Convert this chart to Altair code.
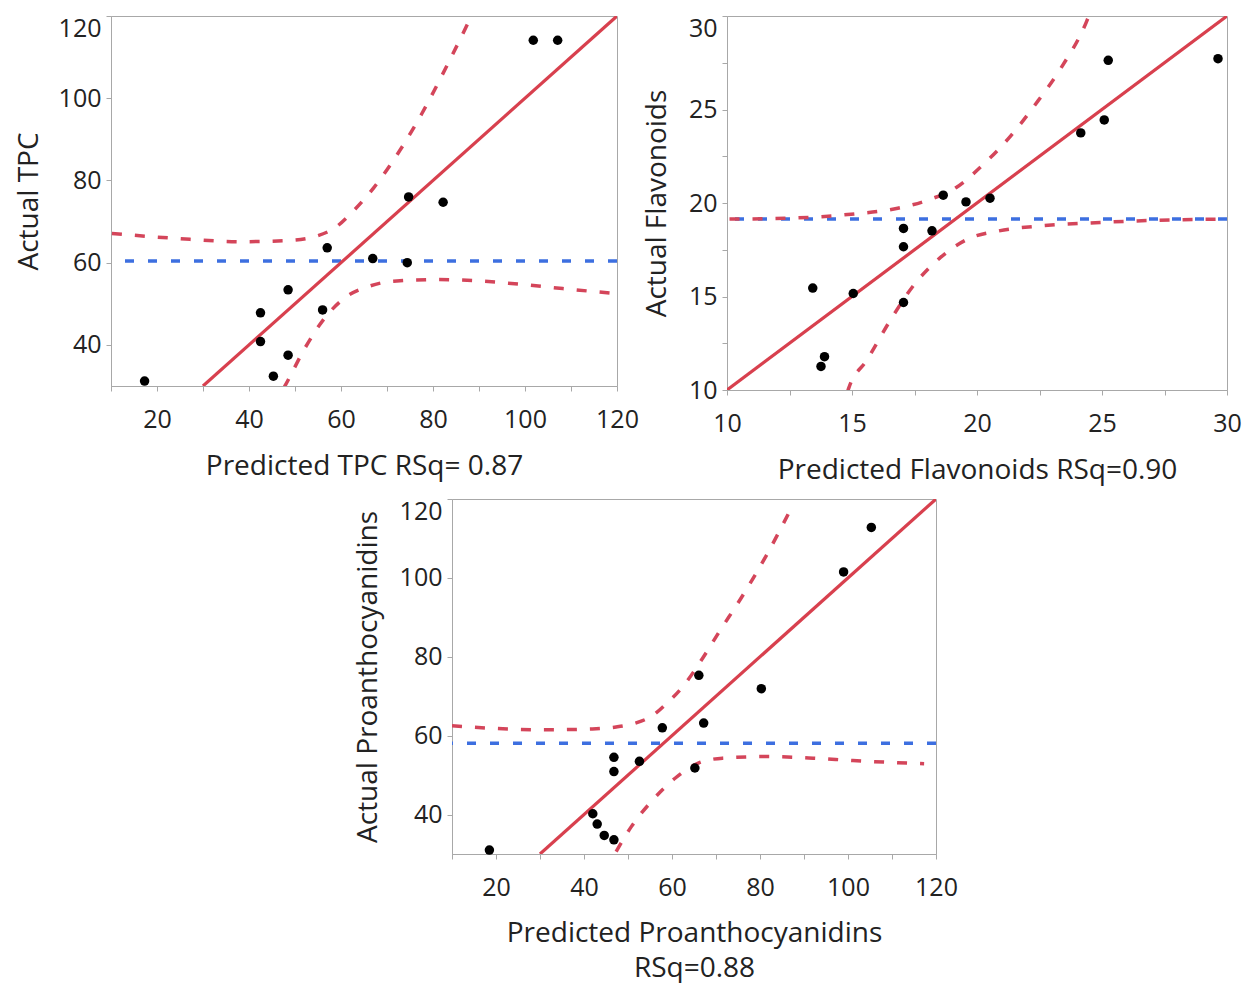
import altair as alt
import pandas as pd

# ---------------- Panel 1: TPC ----------------
tpc_pred = [17.3, 42.5, 42.5, 45.3, 48.5, 48.5, 56.0, 57.0, 66.9, 74.7, 74.4, 82.2, 101.8, 107.1]
tpc_act = [31.2, 47.8, 40.8, 32.4, 53.4, 37.5, 48.5, 63.6, 61.0, 76.0, 60.0, 74.7, 114.1, 114.1]
tpc_mean = 60.4
tpc_fit = [30, 120]
tpc_upper_x = [10.2, 24.2, 38.2, 48.7, 54.8, 58.7, 62.7, 67.1, 73.2, 77.5, 82.8, 88.0, 88.6]
tpc_upper_y = [67.1, 65.9, 65.1, 65.4, 66.5, 68.5, 72.6, 78.2, 88.0, 96.1, 107.4, 119.2, 120.6]
tpc_lower_x = [47.6, 48.0, 52.2, 56.5, 60.9, 66.2, 71.4, 81.0, 90.7, 99.4, 108.2, 119.5]
tpc_lower_y = [29.6, 30.4, 39.3, 46.6, 51.5, 54.3, 55.5, 55.9, 55.5, 54.7, 53.7, 52.5]

# ---------------- Panel 2: Flavonoids ----------------
fla_pred = [13.43, 13.76, 13.90, 15.05, 17.06, 17.06, 17.06, 18.20, 18.65, 19.56, 20.52, 24.15, 25.09, 25.25, 29.64]
fla_act = [15.45, 11.26, 11.78, 15.16, 18.64, 17.66, 14.68, 18.51, 20.42, 20.06, 20.26, 23.75, 24.44, 27.63, 27.72]
fla_mean = 19.15
fla_fit = [10, 30]
fla_upper_x = [10.1, 12.5, 14.96, 16.83, 18.07, 19.17, 20.26, 21.35, 22.44, 23.37, 24.39, 24.5]
fla_upper_y = [19.14, 19.19, 19.40, 19.72, 20.17, 20.83, 22.07, 23.59, 25.46, 27.24, 29.73, 30.1]
fla_lower_x = [14.82, 14.88, 15.58, 16.52, 17.45, 18.54, 19.63, 20.88, 22.60, 24.93, 27.27, 29.92]
fla_lower_y = [9.9, 10.14, 11.57, 13.70, 15.57, 17.09, 18.07, 18.51, 18.78, 18.96, 19.08, 19.14]

# ---------------- Panel 3: Proanthocyanidins ----------------
pro_pred = [18.5, 42.0, 43.0, 44.6, 46.8, 46.8, 46.8, 52.6, 57.8, 65.2, 66.1, 67.2, 80.3, 99.0, 105.3]
pro_act = [31.0, 40.2, 37.6, 34.7, 33.6, 54.5, 50.9, 53.5, 62.0, 51.8, 75.3, 63.2, 71.9, 101.5, 112.8]
pro_mean = 58.1
pro_fit = [30, 120]
pro_upper_x = [10.0, 20.3, 31.1, 41.9, 47.3, 51.7, 55.3, 58.9, 62.5, 67.0, 70.6, 76.0, 81.4, 87.2]
pro_upper_y = [62.5, 61.8, 61.5, 61.7, 62.2, 63.2, 64.9, 68.3, 72.5, 79.7, 86.1, 95.4, 105.6, 117.9]
pro_lower_x = [47.3, 50.8, 55.3, 60.7, 66.1, 71.5, 81.4, 92.1, 101.1, 110.1, 117.3]
pro_lower_y = [30.6, 37.0, 43.3, 49.2, 53.1, 54.3, 54.7, 54.3, 53.7, 53.2, 52.9]

# tick positions
big_x_ticks = [10, 20, 30, 40, 50, 60, 70, 80, 90, 100, 110, 120]
big_y_ticks = [40, 60, 80, 100, 120]
fla_ticks = [10, 12.5, 15, 17.5, 20, 22.5, 25, 27.5, 30]

FONT = "Open Sans"
TXT = "#222222"
RED = "#D8404E"
RED_DASH = "#D4455A"
BLUE = "#3D6FE0"
FRAME = "#A8A8A8"
LFS = 25
TFS = 28


def panel(pred, act, mean, fit, ux, uy, lx, ly, xdom, ydom, xticks, xstep,
          yticks, ystep, xtitle, ytitle, w, h, tpad=20, tlh=37, ytpad=17):
    sx = alt.Scale(domain=xdom, nice=False, zero=False)
    sy = alt.Scale(domain=ydom, nice=False, zero=False)
    xaxis = alt.Axis(values=xticks, format="d",
                     labelExpr=f"datum.value % {xstep} == 0 ? datum.label : ''",
                     labelFlush=False, labelOverlap=False, tickSize=5, tickColor=FRAME,
                     domainColor=FRAME, labelFont=FONT, labelFontSize=LFS, labelColor=TXT,
                     labelPadding=16, titleFont=FONT, titleFontSize=TFS,
                     titleFontWeight="normal", titleColor=TXT, titlePadding=tpad,
                     titleLineHeight=tlh, grid=False)
    yaxis = alt.Axis(values=yticks, format="d",
                     labelExpr=f"datum.value % {ystep} == 0 ? datum.label : ''",
                     labelBaseline={"condition": {"test": f"datum.value >= {ydom[1]}", "value": "top"},
                                    "value": "middle"},
                     labelOverlap=False, tickSize=5, tickColor=FRAME, domainColor=FRAME,
                     labelFont=FONT, labelFontSize=LFS, labelColor=TXT, labelPadding=5,
                     titleFont=FONT, titleFontSize=TFS, titleFontWeight="normal",
                     titleColor=TXT, titlePadding=ytpad, grid=False)

    pts = pd.DataFrame({"x": pred, "y": act})
    up = pd.DataFrame({"x": ux, "y": uy})
    lo = pd.DataFrame({"x": lx, "y": ly})
    fitdf = pd.DataFrame({"x": fit, "y": fit})
    meandf = pd.DataFrame({"y": [mean]})

    mean_l = alt.Chart(meandf).mark_rule(color=BLUE, strokeWidth=3.5, strokeDash=[9, 14]).encode(
        y=alt.Y("y:Q", scale=sy, axis=yaxis, title=ytitle))
    up_l = alt.Chart(up).mark_line(color=RED_DASH, strokeWidth=3.5, strokeDash=[10, 13],
                                   interpolate="monotone", clip=True).encode(
        x=alt.X("x:Q", scale=sx, axis=xaxis, title=xtitle), y=alt.Y("y:Q", scale=sy))
    lo_l = alt.Chart(lo).mark_line(color=RED_DASH, strokeWidth=3.5, strokeDash=[10, 13],
                                   interpolate="monotone", clip=True).encode(
        x=alt.X("x:Q", scale=sx), y=alt.Y("y:Q", scale=sy))
    fit_l = alt.Chart(fitdf).mark_line(color=RED, strokeWidth=3.2, clip=True).encode(
        x=alt.X("x:Q", scale=sx), y=alt.Y("y:Q", scale=sy))
    pt_l = alt.Chart(pts).mark_circle(color="black", size=90, opacity=1).encode(
        x=alt.X("x:Q", scale=sx), y=alt.Y("y:Q", scale=sy))

    return alt.layer(mean_l, up_l, lo_l, fit_l, pt_l).properties(width=w, height=h)


p1 = panel(tpc_pred, tpc_act, tpc_mean, tpc_fit, tpc_upper_x, tpc_upper_y, tpc_lower_x, tpc_lower_y,
           [10, 120], [30, 120], big_x_ticks, 20, big_y_ticks, 20,
           "Predicted TPC RSq= 0.87", "Actual TPC", 506, 370, ytpad=15)
p2 = panel(fla_pred, fla_act, fla_mean, fla_fit, fla_upper_x, fla_upper_y, fla_lower_x, fla_lower_y,
           [10, 30], [10, 30], fla_ticks, 5, fla_ticks, 5,
           "Predicted Flavonoids RSq=0.90", "Actual Flavonoids", 500, 374)
p3 = panel(pro_pred, pro_act, pro_mean, pro_fit, pro_upper_x, pro_upper_y, pro_lower_x, pro_lower_y,
           [10, 120], [30, 120], big_x_ticks, 20, big_y_ticks, 20,
           ["Predicted Proanthocyanidins", "RSq=0.88"], "Actual Proanthocyanidins", 484, 355,
           tpad=19, tlh=35)

spacer = alt.Chart(pd.DataFrame({"v": [0]})).mark_point(opacity=0).encode(
    x=alt.X("v:Q", axis=None), y=alt.Y("v:Q", axis=None)
).properties(width=242, height=10, view=alt.ViewBackground(strokeOpacity=0))

row1 = alt.hconcat(p1, p2, spacing=3)
row2 = alt.hconcat(spacer, p3, spacing=0)

chart = alt.vconcat(row1, row2, spacing=13).properties(
    padding={"left": 6, "top": 7, "right": 0, "bottom": 0}
).configure_view(stroke=FRAME, strokeWidth=1)

chart.save("out.html", embed_options={"renderer": "svg", "actions": False})
